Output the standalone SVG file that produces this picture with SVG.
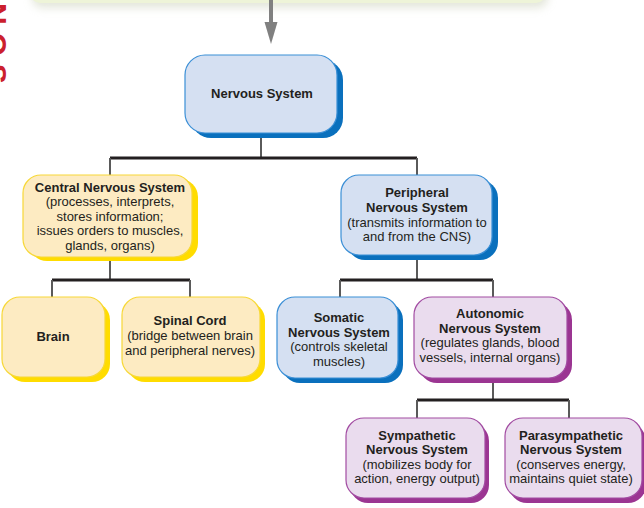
<svg xmlns="http://www.w3.org/2000/svg" width="644" height="508" viewBox="0 0 644 508">
  <defs>
    <style>
      .t { font-family: "Liberation Sans", Arial, sans-serif; font-size: 13px; fill: #231f20; text-anchor: middle; }
      .b { font-weight: bold; }
      .bus { stroke: #231f20; stroke-width: 3; fill: none; }
      .drop { stroke: #5a5a5a; stroke-width: 2; fill: none; }
      .blueFill { fill: #d5e0f2; stroke: #3b8fd6; stroke-width: 1.2; }
      .blueShadow { fill: #0a70bd; }
      .yelFill { fill: #fdebc2; stroke: #f7d838; stroke-width: 1.2; }
      .yelShadow { fill: #ffdc00; }
      .purFill { fill: #eadcee; stroke: #a24ca2; stroke-width: 1.2; }
      .purShadow { fill: #9b3592; }
    </style>
    <filter id="soft" x="-10%" y="-50%" width="120%" height="250%">
      <feGaussianBlur stdDeviation="4"/>
    </filter>
  </defs>

  <rect width="644" height="508" fill="#ffffff"/>

  <!-- page header band above the chart -->
  <rect x="32" y="-30" width="516" height="38" rx="10" fill="#c9cfb8" opacity="0.5" filter="url(#soft)"/>
  <rect x="30" y="-30" width="516" height="33" rx="10" fill="#eef4d8"/>

  <!-- side tab lettering, running off the left page edge -->
  <text x="-14.5" y="3" transform="rotate(90 -14.5 3)" style="font-family:'Liberation Sans',Arial,sans-serif;font-weight:bold;font-size:30px;letter-spacing:8px;fill:#cc1f2e">NOS</text>

  <!-- incoming arrow -->
  <line x1="271" y1="0" x2="271" y2="24" stroke="#808080" stroke-width="4"/>
  <polygon points="264.5,22 277.5,22 271,44" fill="#808080"/>

  <!-- connectors -->
  <g id="connectors">
    <path class="drop" d="M261,133 V158"/>
    <path class="bus" d="M110,158 H417"/>
    <path class="drop" d="M110,158 V176 M417,158 V176"/>

    <path class="drop" d="M110,257 V280"/>
    <path class="bus" d="M52,280 H190"/>
    <path class="drop" d="M52,280 V298 M190,280 V298"/>

    <path class="drop" d="M417,255 V280"/>
    <path class="bus" d="M340,280 H493"/>
    <path class="drop" d="M340,280 V298 M493,280 V298"/>

    <path class="drop" d="M493,378 V400"/>
    <path class="bus" d="M417,400 H569"/>
    <path class="drop" d="M417,400 V419 M569,400 V419"/>
  </g>

  <!-- Nervous System -->
  <g id="nervous-system">
    <rect class="blueShadow" x="191" y="60" width="152" height="78" rx="20"/>
    <rect class="blueFill" x="185" y="55" width="152" height="78" rx="20"/>
    <text class="t b" x="262" y="98">Nervous System</text>
  </g>

  <!-- Central Nervous System -->
  <g id="cns">
    <rect class="yelShadow" x="29" y="179" width="169" height="82" rx="18"/>
    <rect class="yelFill" x="23" y="175" width="169" height="82" rx="18"/>
    <text class="t" x="110" y="192"><tspan class="b">Central Nervous System</tspan><tspan x="110" dy="14.4">(processes, interprets,</tspan><tspan x="110" dy="14.4">stores information;</tspan><tspan x="110" dy="14.4">issues orders to muscles,</tspan><tspan x="110" dy="14.4">glands, organs)</tspan></text>
  </g>

  <!-- Peripheral Nervous System -->
  <g id="pns">
    <rect class="blueShadow" x="347" y="180" width="151" height="80" rx="18"/>
    <rect class="blueFill" x="341" y="175" width="151" height="80" rx="18"/>
    <text class="t" x="417" y="197"><tspan class="b">Peripheral</tspan><tspan class="b" x="417" dy="14.8">Nervous System</tspan><tspan x="417" dy="14.8">(transmits information to</tspan><tspan x="417" dy="14.8">and from the CNS)</tspan></text>
  </g>

  <!-- Brain -->
  <g id="brain">
    <rect class="yelShadow" x="7" y="302" width="103" height="80" rx="18"/>
    <rect class="yelFill" x="2" y="297" width="103" height="80" rx="18"/>
    <text class="t b" x="53" y="341">Brain</text>
  </g>

  <!-- Spinal Cord -->
  <g id="spinal-cord">
    <rect class="yelShadow" x="127" y="302" width="138" height="80" rx="18"/>
    <rect class="yelFill" x="122" y="297" width="138" height="80" rx="18"/>
    <text class="t" x="190" y="325"><tspan class="b">Spinal Cord</tspan><tspan x="190" dy="15">(bridge between brain</tspan><tspan x="190" dy="15">and peripheral nerves)</tspan></text>
  </g>

  <!-- Somatic Nervous System -->
  <g id="somatic">
    <rect class="blueShadow" x="282" y="302" width="121" height="81" rx="18"/>
    <rect class="blueFill" x="277" y="297" width="121" height="81" rx="18"/>
    <text class="t" x="339" y="322"><tspan class="b">Somatic</tspan><tspan class="b" x="339" dy="14.5">Nervous System</tspan><tspan x="339" dy="14.5">(controls skeletal</tspan><tspan x="339" dy="14.5">muscles)</tspan></text>
  </g>

  <!-- Autonomic Nervous System -->
  <g id="autonomic">
    <rect class="purShadow" x="419" y="302" width="153" height="81" rx="18"/>
    <rect class="purFill" x="414" y="297" width="153" height="81" rx="18"/>
    <text class="t" x="490" y="318"><tspan class="b">Autonomic</tspan><tspan class="b" x="490" dy="14.7">Nervous System</tspan><tspan x="490" dy="14.7">(regulates glands, blood</tspan><tspan x="490" dy="14.7">vessels, internal organs)</tspan></text>
  </g>

  <!-- Sympathetic Nervous System -->
  <g id="sympathetic">
    <rect class="purShadow" x="350" y="423" width="139" height="80" rx="18"/>
    <rect class="purFill" x="346" y="418" width="139" height="80" rx="18"/>
    <text class="t" x="417" y="440"><tspan class="b">Sympathetic</tspan><tspan class="b" x="417" dy="14">Nervous System</tspan><tspan x="417" dy="14.5">(mobilizes body for</tspan><tspan x="417" dy="14.5">action, energy output)</tspan></text>
  </g>

  <!-- Parasympathetic Nervous System -->
  <g id="parasympathetic">
    <rect class="purShadow" x="509" y="423" width="137" height="80" rx="18"/>
    <rect class="purFill" x="505" y="418" width="137" height="80" rx="18"/>
    <text class="t" x="571" y="440"><tspan class="b">Parasympathetic</tspan><tspan class="b" x="571" dy="14">Nervous System</tspan><tspan x="571" dy="14.5">(conserves energy,</tspan><tspan x="571" dy="14.5">maintains quiet state)</tspan></text>
  </g>
</svg>
